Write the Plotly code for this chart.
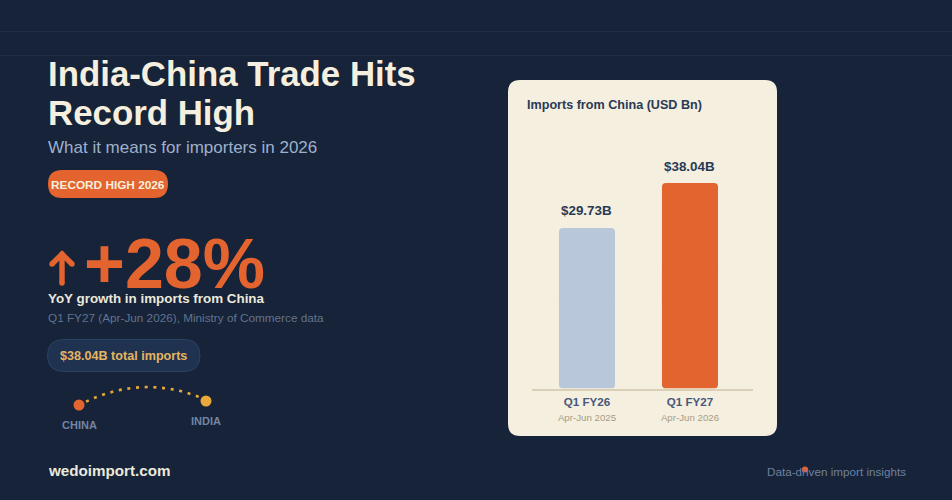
import plotly.graph_objects as go

# chart values
quarters = ['Q1 FY26', 'Q1 FY27']
periods = ['Apr-Jun 2025', 'Apr-Jun 2026']
imports_usd_bn = [29.73, 38.04]
bar_labels = ['$29.73B', '$38.04B']
bar_colors = ['#b9c7db', '#e2642f']

BG = '#162338'
CREAM = '#f5efdf'
ORANGE = '#e4642f'
FONT = 'Liberation Sans'
W, H = 952, 500

shapes = []
annotations = []


def text(x, y, s, size, color, bold=False, anchor='left'):
    annotations.append(dict(
        xref='x', yref='y', x=x, y=y, text=f'<b>{s}</b>' if bold else s,
        showarrow=False, xanchor=anchor, yanchor='middle', align=anchor,
        borderpad=0, borderwidth=0, font=dict(family=FONT, size=size, color=color)))


def rounded_box(x0, y0, x1, y1, r, fill, border=None):
    path = (f'M{x0 + r},{y0} L{x1 - r},{y0} Q{x1},{y0} {x1},{y0 + r} '
            f'L{x1},{y1 - r} Q{x1},{y1} {x1 - r},{y1} '
            f'L{x0 + r},{y1} Q{x0},{y1} {x0},{y1 - r} '
            f'L{x0},{y0 + r} Q{x0},{y0} {x0 + r},{y0} Z')
    shapes.append(dict(type='path', xref='x', yref='y', path=path, fillcolor=fill,
                       layer='below',
                       line=dict(color=border or fill, width=1 if border else 0)))


def stroke(path, color, width, dash='solid'):
    shapes.append(dict(type='path', xref='x', yref='y', path=path, layer='below',
                       line=dict(color=color, width=width, dash=dash)))


def dot(cx, cy, r, color):
    shapes.append(dict(type='circle', xref='x', yref='y', x0=cx - r, y0=cy - r,
                       x1=cx + r, y1=cy + r, fillcolor=color, line=dict(width=0),
                       layer='below'))


# faint rules at the top
for rule_y in [31.5, 55.5]:
    stroke(f'M0,{rule_y} L{W},{rule_y}', '#1e2d47', 1)

# left column
text(48, 73.5, 'India-China Trade Hits', 34.85, CREAM, bold=True)
text(48, 112.5, 'Record High', 34.85, CREAM, bold=True)
text(48, 147, 'What it means for importers in 2026', 17, '#9fb0cc')

rounded_box(48, 170, 168, 198, 14, ORANGE)
text(108, 185, 'RECORD HIGH 2026', 11.8, CREAM, bold=True, anchor='center')

# up arrow, shapes have no round caps so the ends get small dots
stroke('M62,283 L62,254', ORANGE, 5.4)
stroke('M52,264 L62,254 L72,264', ORANGE, 5.4)
for cap_x, cap_y in [(62, 283), (52, 264), (72, 264), (62, 254)]:
    dot(cap_x, cap_y, 2.7, ORANGE)
text(84, 264, '+28%', 70, ORANGE, bold=True)

text(48, 298.5, 'YoY growth in imports from China', 13.4, '#ece8dc', bold=True)
text(48, 317, 'Q1 FY27 (Apr-Jun 2026), Ministry of Commerce data', 11.75, '#62738f')

rounded_box(47.5, 339.5, 200, 371.5, 16, '#1f3250', border='#2c4263')
text(60, 356, '$38.04B total imports', 12.6, '#e6b560', bold=True)

# china to india route
stroke('M86,401.7 Q142,375 199,397', '#e9a83a', 2.6, dash='3px,5.7px')
text(79, 425, 'CHINA', 11, '#7385a3', bold=True, anchor='center')
text(206, 421, 'INDIA', 11, '#7385a3', bold=True, anchor='center')

# footer
text(47.5, 470.5, 'wedoimport.com', 15.2, '#ece8dc', bold=True)
dot(805, 469.5, 3, ORANGE)
text(766.5, 471.5, 'Data-driven import insights', 11.7, '#6f81a0')

# card
rounded_box(508, 80, 777, 436, 12, CREAM)
text(527, 105, 'Imports from China (USD Bn)', 12.6, '#2a3a55', bold=True)

# value labels sit above each bar
for q, v, label in zip(quarters, imports_usd_bn, bar_labels):
    annotations.append(dict(
        xref='x2', yref='y2', x=q, y=v, text=f'<b>{label}</b>', showarrow=False,
        yanchor='middle', yshift=17, borderpad=0,
        font=dict(family=FONT, size=13.4, color='#2a3a55')))

tick_text = [f"<b>{q}</b><br><span style='font-size:9.7px;color:#a89c84'>{p}</span>"
             for q, p in zip(quarters, periods)]

fig = go.Figure()
# city dots, these also keep the pixel canvas axes alive
fig.add_trace(go.Scatter(
    x=[79, 206], y=[405, 401], mode='markers', xaxis='x', yaxis='y', hoverinfo='skip',
    marker=dict(size=11, color=[ORANGE, '#e9a83a'], line=dict(width=0))))
# barcornerradius only rounds the far end, so each bar is two overlapping pieces
fig.add_trace(go.Bar(
    x=quarters, y=[v * 0.6 for v in imports_usd_bn], base=[v * 0.4 for v in imports_usd_bn],
    xaxis='x2', yaxis='y2', width=0.544, cliponaxis=False,
    marker=dict(color=bar_colors, line=dict(width=0))))
fig.add_trace(go.Bar(
    x=quarters, y=[-v * 0.6 for v in imports_usd_bn], base=[v * 0.6 for v in imports_usd_bn],
    xaxis='x2', yaxis='y2', width=0.544, cliponaxis=False,
    marker=dict(color=bar_colors, line=dict(width=0))))

fig.update_layout(
    width=W, height=H, margin=dict(l=0, r=0, t=0, b=0),
    paper_bgcolor=BG, plot_bgcolor='rgba(0,0,0,0)',
    showlegend=False, barmode='overlay', barcornerradius=4,
    shapes=shapes, annotations=annotations,
    xaxis=dict(domain=[0, 1], range=[0, W], visible=False, fixedrange=True),
    yaxis=dict(domain=[0, 1], range=[H, 0], visible=False, fixedrange=True),
    xaxis2=dict(domain=[532 / W, 753 / W], range=[-0.534, 1.612], anchor='y2',
                type='category', tickmode='array', tickvals=quarters, ticktext=tick_text,
                showline=True, linecolor='#d9d0b5', linewidth=1.5, showgrid=False,
                ticks='', ticklabelstandoff=2,
                tickfont=dict(family=FONT, size=11.6, color='#47587a')),
    yaxis2=dict(domain=[(H - 388.5) / H, (H - 130) / H], range=[0, 47.85], anchor='x2',
                visible=False, showgrid=False),
)

# the default page has a body margin that would push the chart off the window
fig.write_html("out.html", config=dict(displayModeBar=False),
               post_script="document.body.style.margin='0';document.body.style.overflow='hidden';")
